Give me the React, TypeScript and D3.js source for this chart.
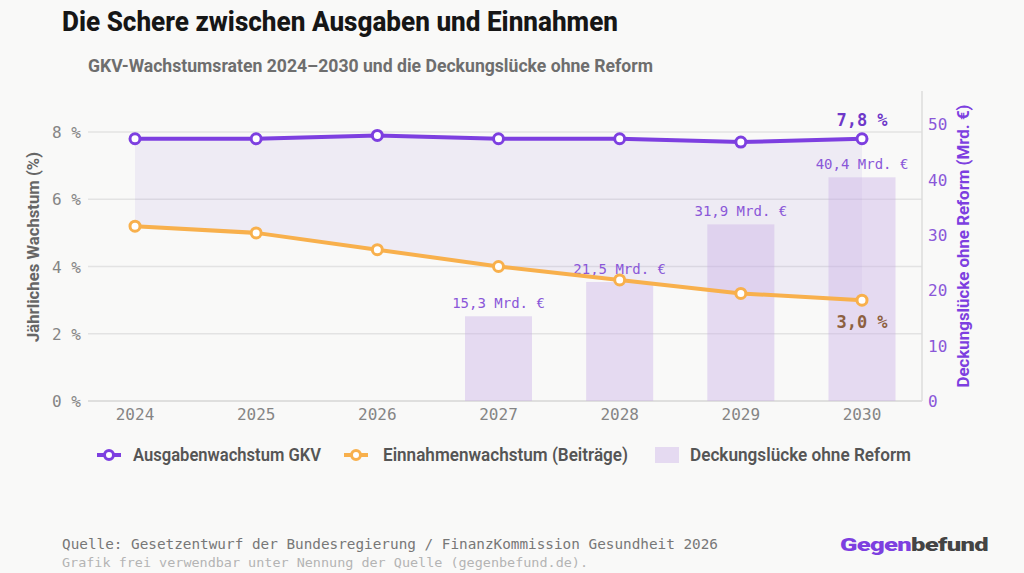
import React, { useEffect, useRef } from "react";
import * as d3 from "d3";

const years = ["2024", "2025", "2026", "2027", "2028", "2029", "2030"];
const ausgaben = [7.8, 7.8, 7.9, 7.8, 7.8, 7.7, 7.8];
const einnahmen = [5.2, 5.0, 4.5, 4.0, 3.6, 3.2, 3.0];
const luecke = [null, null, null, 15.3, 21.5, 31.9, 40.4];
const leftTicks = [0, 2, 4, 6, 8];
const rightTicks = [0, 10, 20, 30, 40, 50];

const PURPLE = "#7d3fe0";
const ORANGE = "#f8b04c";
const BAR = "#c7ace6";
const GREY = "#666";
const COND = "Roboto, 'Noto Sans', sans-serif";
const MONO = "'DejaVu Sans Mono', 'Liberation Mono', monospace";

const fmt = (v: number) => v.toFixed(1).replace(".", ",");

function App() {
  const ref = useRef<SVGSVGElement>(null);

  useEffect(() => {
    const width = 1024;
    const height = 573;
    const plot = { left: 88, right: 922, top: 91, bottom: 401 };

    const svg = d3.select(ref.current);
    svg.selectAll("*").remove();

    svg.append("rect").attr("width", width).attr("height", height).attr("fill", "#f9f9f8");

    const x = d3.scalePoint<string>().domain(years).range([135, 862]);
    const y = d3.scaleLinear().domain([0, 9.22]).range([plot.bottom, plot.top]);
    const y2 = d3.scaleLinear().domain([0, 56]).range([plot.bottom, plot.top]);

    // condensed-looking text: Roboto squeezed to a fixed width
    const condText = (
      tx: number,
      ty: number,
      s: string,
      size: number,
      weight: number,
      fill: string,
      len: number
    ) =>
      svg
        .append("text")
        .attr("x", tx)
        .attr("y", ty)
        .attr("font-family", COND)
        .attr("font-size", size)
        .attr("font-weight", weight)
        .attr("fill", fill)
        .attr("textLength", len)
        .attr("lengthAdjust", "spacingAndGlyphs")
        .text(s);

    condText(62, 31, "Die Schere zwischen Ausgaben und Einnahmen", 27, 800, "#161616", 556);
    condText(88, 72, "GKV-Wachstumsraten 2024–2030 und die Deckungslücke ohne Reform", 18, 700, "#6e6e6e", 565);

    // grid
    svg
      .append("g")
      .selectAll("line")
      .data(leftTicks)
      .join("line")
      .attr("x1", plot.left)
      .attr("x2", plot.right)
      .attr("y1", (d) => y(d))
      .attr("y2", (d) => y(d))
      .attr("stroke", d => (d === 0 ? "#d6d6d6" : "#e3e3e3"))
      .attr("stroke-width", 1.5);

    svg
      .append("line")
      .attr("x1", plot.right)
      .attr("x2", plot.right)
      .attr("y1", plot.top)
      .attr("y2", plot.bottom)
      .attr("stroke", "#dcdcdc")
      .attr("stroke-width", 1.5);

    // gap between the two growth lines
    const idx = years.map((_, i) => i);
    svg
      .append("path")
      .datum(idx)
      .attr(
        "d",
        d3
          .area<number>()
          .x((i) => x(years[i])!)
          .y0((i) => y(einnahmen[i]))
          .y1((i) => y(ausgaben[i]))
      )
      .attr("fill", "#8a63d2")
      .attr("fill-opacity", 0.09);

    // bars on the right axis
    const bw = 67;
    const barData = years
      .map((yr, i) => ({ yr, v: luecke[i] }))
      .filter((d) => d.v !== null) as { yr: string; v: number }[];

    svg
      .append("g")
      .selectAll("rect")
      .data(barData)
      .join("rect")
      .attr("x", (d) => x(d.yr)! - bw / 2)
      .attr("y", (d) => y2(d.v))
      .attr("width", bw)
      .attr("height", (d) => y2(0) - y2(d.v))
      .attr("fill", BAR)
      .attr("fill-opacity", 0.4);

    svg
      .append("g")
      .selectAll("text")
      .data(barData)
      .join("text")
      .attr("x", (d) => x(d.yr)!)
      .attr("y", (d) => y2(d.v) - 8)
      .attr("text-anchor", "middle")
      .attr("font-family", MONO)
      .attr("font-size", 14)
      .attr("fill", "#8a57d8")
      .text((d) => `${fmt(d.v)} Mrd. €`);

    // lines
    const drawLine = (vals: number[], color: string) => {
      svg
        .append("path")
        .datum(idx)
        .attr(
          "d",
          d3
            .line<number>()
            .x((i) => x(years[i])!)
            .y((i) => y(vals[i]))
        )
        .attr("fill", "none")
        .attr("stroke", color)
        .attr("stroke-width", 4)
        .attr("stroke-linejoin", "round");

      svg
        .append("g")
        .selectAll("circle")
        .data(idx)
        .join("circle")
        .attr("cx", (i) => x(years[i])!)
        .attr("cy", (i) => y(vals[i]))
        .attr("r", 5)
        .attr("fill", "#fff")
        .attr("stroke", color)
        .attr("stroke-width", 3);
    };
    drawLine(einnahmen, ORANGE);
    drawLine(ausgaben, PURPLE);

    const last = years.length - 1;
    svg
      .append("text")
      .attr("x", x(years[last])!)
      .attr("y", y(ausgaben[last]) - 13)
      .attr("text-anchor", "middle")
      .attr("font-family", MONO)
      .attr("font-size", 17)
      .attr("font-weight", 700)
      .attr("fill", "#6f38c9")
      .text(`${fmt(ausgaben[last])} %`);

    svg
      .append("text")
      .attr("x", x(years[last])!)
      .attr("y", y(einnahmen[last]) + 28)
      .attr("text-anchor", "middle")
      .attr("font-family", MONO)
      .attr("font-size", 17)
      .attr("font-weight", 700)
      .attr("fill", "#8d6040")
      .text(`${fmt(einnahmen[last])} %`);

    // axes labels
    svg
      .append("g")
      .selectAll("text")
      .data(leftTicks)
      .join("text")
      .attr("x", 81)
      .attr("y", (d) => y(d) + 6)
      .attr("text-anchor", "end")
      .attr("font-family", MONO)
      .attr("font-size", 16)
      .attr("fill", "#858585")
      .text((d) => `${d} %`);

    svg
      .append("g")
      .selectAll("text")
      .data(rightTicks)
      .join("text")
      .attr("x", 928)
      .attr("y", (d) => y2(d) + 6)
      .attr("font-family", MONO)
      .attr("font-size", 16)
      .attr("fill", "#8a57d8")
      .text((d) => d);

    svg
      .append("g")
      .selectAll("text")
      .data(years)
      .join("text")
      .attr("x", (d) => x(d)!)
      .attr("y", 420)
      .attr("text-anchor", "middle")
      .attr("font-family", MONO)
      .attr("font-size", 16)
      .attr("fill", "#858585")
      .text((d) => d);

    condText(0, 0, "Jährliches Wachstum (%)", 17, 700, GREY, 190)
      .attr("text-anchor", "middle")
      .attr("transform", "translate(39,247) rotate(-90)");
    condText(0, 0, "Deckungslücke ohne Reform (Mrd. €)", 17, 700, "#7d3fe0", 283)
      .attr("text-anchor", "middle")
      .attr("transform", "translate(969,246) rotate(-90)");

    // legend
    const ly = 455;
    const legendLine = (lx: number, color: string) => {
      svg.append("line").attr("x1", lx).attr("x2", lx + 24).attr("y1", ly).attr("y2", ly)
        .attr("stroke", color).attr("stroke-width", 4);
      svg.append("circle").attr("cx", lx + 12).attr("cy", ly).attr("r", 4.5)
        .attr("fill", "#fff").attr("stroke", color).attr("stroke-width", 3);
    };
    legendLine(97, PURPLE);
    condText(133, ly + 6, "Ausgabenwachstum GKV", 18, 600, "#555", 188);
    legendLine(344, ORANGE);
    condText(383, ly + 6, "Einnahmenwachstum (Beiträge)", 18, 600, "#555", 245);
    svg.append("rect").attr("x", 655).attr("y", ly - 8).attr("width", 24).attr("height", 16)
      .attr("fill", BAR).attr("fill-opacity", 0.4);
    condText(690, ly + 6, "Deckungslücke ohne Reform", 18, 600, "#555", 221);

    // footer
    svg.append("text").attr("x", 62).attr("y", 549).attr("font-family", MONO)
      .attr("font-size", 14).attr("fill", "#777")
      .attr("textLength", 656).attr("lengthAdjust", "spacingAndGlyphs")
      .text("Quelle: Gesetzentwurf der Bundesregierung / FinanzKommission Gesundheit 2026");
    svg.append("text").attr("x", 62).attr("y", 567).attr("font-family", MONO)
      .attr("font-size", 13).attr("fill", "#b4b4b4")
      .attr("textLength", 526).attr("lengthAdjust", "spacingAndGlyphs")
      .text("Grafik frei verwendbar unter Nennung der Quelle (gegenbefund.de).");

    const logo = svg.append("text").attr("x", 840).attr("y", 551)
      .attr("font-family", COND).attr("font-size", 19).attr("font-weight", 900)
      .attr("textLength", 148).attr("lengthAdjust", "spacingAndGlyphs")
      .attr("letter-spacing", -0.5);
    logo.append("tspan").attr("fill", "#7d3fe0").text("Gegen");
    logo.append("tspan").attr("fill", "#444").text("befund");
  }, []);

  return (
    <svg
      ref={ref}
      width={1024}
      height={573}
      style={{ position: "absolute", left: 0, top: 0 }}
    />
  );
}

export default App;
